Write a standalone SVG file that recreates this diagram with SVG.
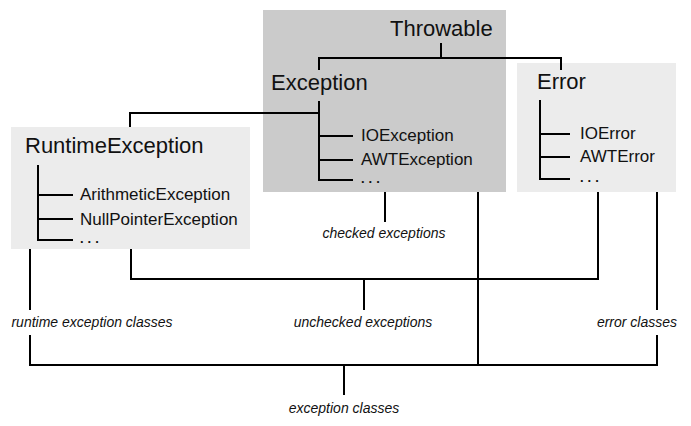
<svg xmlns="http://www.w3.org/2000/svg" width="691" height="426" viewBox="0 0 691 426">
<style>
.bg{fill:#ffffff}
.dark{fill:#cbcbcb}
.light{fill:#ececec}
.ln{fill:none;stroke:#000;stroke-width:2}
.t1{font-family:"Liberation Sans",Arial,sans-serif;font-size:22px;fill:#111}
.t2{font-family:"Liberation Sans",Arial,sans-serif;font-size:17px;fill:#111}
.dots{font-family:"Liberation Sans",Arial,sans-serif;font-size:13px;font-weight:bold;fill:#111;letter-spacing:4px}
.lab{font-family:"Liberation Sans",Arial,sans-serif;font-size:14px;font-style:italic;fill:#111;text-anchor:middle}
</style>
<rect class="bg" x="0" y="0" width="691" height="426"/>
<g id="boxes">
<rect class="dark" x="263" y="10" width="243" height="182"/>
<rect class="light" x="517" y="63" width="159" height="129"/>
<rect class="light" x="11" y="127" width="239" height="122"/>
</g>
<g id="connectors">
<path class="ln" d="M319 70 V58 H561 V70 M441 43 V58"/>
<path class="ln" d="M319 101 V180 H353 M319 136 H353 M319 160 H353"/>
<path class="ln" d="M319 113 H130 V127"/>
<path class="ln" d="M540 100 V179 H570 M540 134 H570 M540 157 H570"/>
<path class="ln" d="M38 165 V240 H73 M38 195 H73 M38 219 H73"/>
<path class="ln" d="M385 192 V222"/>
<path class="ln" d="M131 249 V279 H598 V192 M364 279 V310"/>
<path class="ln" d="M30 249 V310 M30 335 V365 H657 V335 M657 192 V310 M478 192 V365 M344 365 V395"/>
</g>
<g id="throwable"><text class="t1" x="390" y="36">Throwable</text></g>
<g id="exception">
<text class="t1" x="271" y="90">Exception</text>
<text class="t2" x="361" y="141">IOException</text>
<text class="t2" x="361" y="165">AWTException</text>
<text class="dots" x="361" y="183">...</text>
</g>
<g id="error">
<text class="t1" x="537" y="89">Error</text>
<text class="t2" x="580" y="139">IOError</text>
<text class="t2" x="580" y="162">AWTError</text>
<text class="dots" x="580" y="182">...</text>
</g>
<g id="runtimeexception">
<text class="t1" x="25" y="153">RuntimeException</text>
<text class="t2" x="80" y="200">ArithmeticException</text>
<text class="t2" x="80" y="225">NullPointerException</text>
<text class="dots" x="80" y="243">...</text>
</g>
<g id="labels">
<text class="lab" x="384" y="238">checked exceptions</text>
<text class="lab" x="92" y="327">runtime exception classes</text>
<text class="lab" x="363" y="327">unchecked exceptions</text>
<text class="lab" x="637" y="327">error classes</text>
<text class="lab" x="344" y="413">exception classes</text>
</g>
</svg>
